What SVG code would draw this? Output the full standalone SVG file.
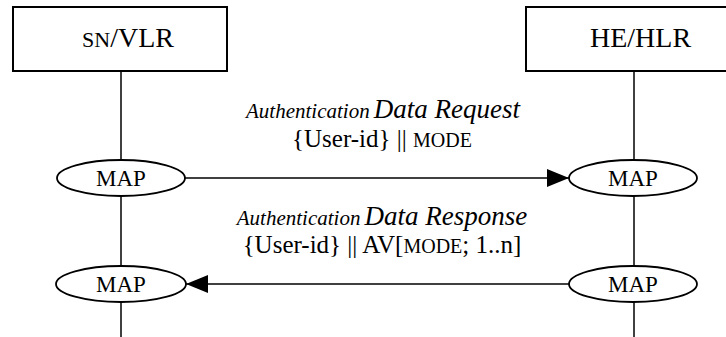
<svg xmlns="http://www.w3.org/2000/svg" width="726" height="337" viewBox="0 0 726 337">
  <style>
    .box { fill: #fff; stroke: #000; stroke-width: 2; }
    .life { stroke: #000; stroke-width: 1.5; fill: none; }
    .oval { fill: #fff; stroke: #000; stroke-width: 1.8; }
    .msg { stroke: #000; stroke-width: 1.5; fill: none; }
    text { font-family: "Liberation Serif", "Times New Roman", serif; fill: #000; }
    .ent { font-size: 28px; }
    .map { font-size: 23px; text-anchor: middle; }
    .lbl { text-anchor: middle; }
  </style>
  <defs>
    <marker id="head" viewBox="0 0 22 18" refX="22" refY="9" markerWidth="22" markerHeight="18" markerUnits="userSpaceOnUse" orient="auto">
      <path d="M0,0 L22,9 L0,18 Z" fill="#000"/>
    </marker>
  </defs>
  <rect width="726" height="337" fill="#fff"/>

  <g id="lifelines">
    <line class="life" x1="121" y1="71" x2="121" y2="337"/>
    <line class="life" x1="634" y1="71" x2="634" y2="337"/>
  </g>

  <g id="sn-vlr">
    <rect class="box" x="13" y="7" width="214" height="64"/>
    <text class="ent" x="82" y="47"><tspan font-size="22">SN</tspan>/VLR</text>
  </g>

  <g id="he-hlr">
    <rect class="box" x="526" y="7" width="214" height="64"/>
    <text class="ent" x="590" y="47">HE/HLR</text>
  </g>

  <g id="map-sn-1">
    <ellipse class="oval" cx="121" cy="178" rx="64" ry="18"/>
    <text class="map" x="121" y="186">MAP</text>
  </g>
  <g id="map-he-1">
    <ellipse class="oval" cx="633" cy="178" rx="64" ry="18"/>
    <text class="map" x="633" y="186">MAP</text>
  </g>
  <g id="map-sn-2">
    <ellipse class="oval" cx="121" cy="284" rx="65" ry="18"/>
    <text class="map" x="121" y="292">MAP</text>
  </g>
  <g id="map-he-2">
    <ellipse class="oval" cx="633" cy="284" rx="64" ry="18"/>
    <text class="map" x="633" y="292">MAP</text>
  </g>

  <g id="connectors">
    <line class="msg" x1="185" y1="178" x2="569" y2="178" marker-end="url(#head)"/>
    <line class="msg" x1="569" y1="284" x2="186" y2="284" marker-end="url(#head)"/>
  </g>

  <g id="labels">
    <text class="lbl" x="383" y="118" font-style="italic"><tspan font-size="21">Authentication</tspan> <tspan font-size="27">Data Request</tspan></text>
    <text class="lbl" x="382" y="147" font-size="25">{User-id} || <tspan font-size="20">MODE</tspan></text>
    <text class="lbl" x="382" y="225" font-style="italic"><tspan font-size="21">Authentication</tspan> <tspan font-size="27">Data Response</tspan></text>
    <text class="lbl" x="382" y="253" font-size="25">{User-id} || AV[<tspan font-size="20">MODE</tspan>; 1..n]</text>
  </g>
</svg>
